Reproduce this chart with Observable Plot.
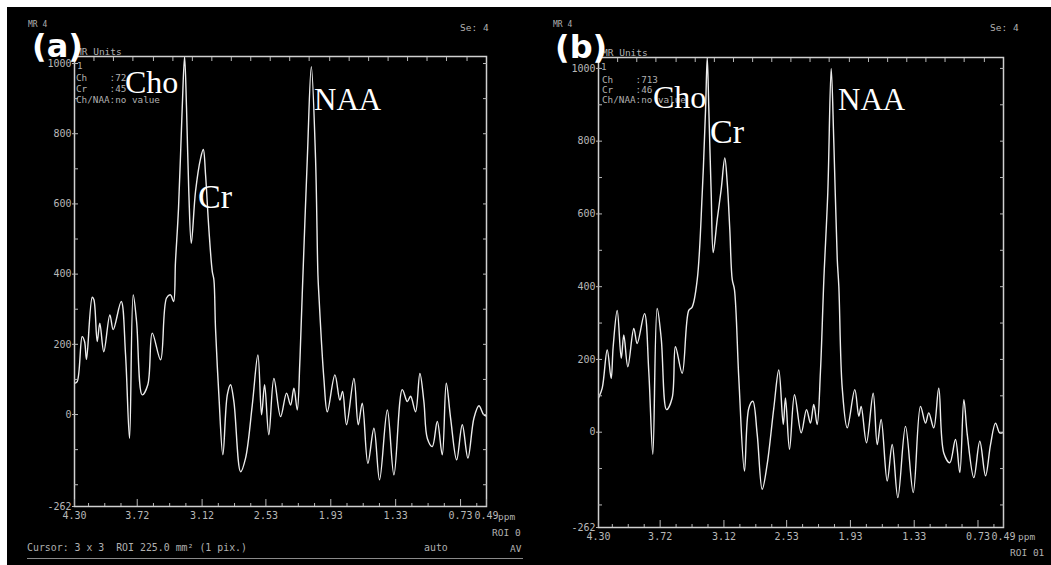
<!DOCTYPE html>
<html><head><meta charset="utf-8">
<script src="https://cdn.jsdelivr.net/npm/d3@7"></script>
<script src="https://cdn.jsdelivr.net/npm/@observablehq/plot@0.6"></script>
<style>
html,body{margin:0;padding:0;background:#fff;}
#stage{position:relative;width:1051px;height:565px;overflow:hidden;background:#fff;}
#black{position:absolute;left:7px;top:7px;right:0;bottom:0;background:#000;}
.p{position:absolute;top:0;}
.t{position:absolute;white-space:pre;color:#b0b0b0;font-family:"DejaVu Sans Mono",monospace;line-height:1;}
.lab{position:absolute;white-space:pre;color:#fff;font-family:"Liberation Serif","Times New Roman",serif;line-height:1;}
.big{position:absolute;white-space:pre;color:#fff;font-family:"DejaVu Sans",sans-serif;font-weight:bold;line-height:1;}
</style></head><body><div id="stage"><div id="black"></div></div>
<script>
// ---- data: chemical shift (ppm) and signal (MR units) ----
const ppmA = [4.300,4.275,4.229,4.207,4.189,4.136,4.121,4.090,4.066,4.029,3.973,3.942,3.868,3.828,3.791,3.757,3.726,3.674,3.622,3.581,3.504,3.449,3.412,3.384,3.366,3.338,3.304,3.282,3.264,3.243,3.220,3.181,3.134,3.109,3.088,3.058,3.026,3.011,2.996,2.965,2.928,2.887,2.857,2.826,2.764,2.718,2.656,2.604,2.570,2.542,2.503,2.456,2.394,2.339,2.302,2.271,2.240,2.216,2.194,2.147,2.110,2.071,2.049,2.040,1.994,1.962,1.892,1.846,1.821,1.784,1.716,1.676,1.639,1.587,1.531,1.479,1.407,1.346,1.269,1.222,1.192,1.146,1.106,1.069,1.037,0.991,0.945,0.899,0.862,0.822,0.766,0.714,0.662,0.606,0.560,0.517,0.490];
const valA = [89,94,222,208,157,334,328,208,260,179,284,242,322,171,-68,341,265,56,85,232,156,332,341,322,436,588,873,1020,873,635,488,635,730,755,683,531,408,384,246,56,-115,56,85,37,-163,-124,27,170,-1,85,-58,103,-6,61,27,75,13,151,342,730,991,730,399,341,103,8,113,41,66,-29,103,-29,32,-139,-39,-186,13,-172,71,37,52,8,117,37,-68,-91,-20,-115,89,-10,-129,-29,-124,-10,25,0,-5];

const ppmB = [4.300,4.265,4.218,4.181,4.162,4.124,4.086,4.062,4.024,3.968,3.936,3.867,3.827,3.789,3.748,3.710,3.660,3.607,3.576,3.513,3.451,3.419,3.371,3.324,3.293,3.277,3.262,3.240,3.221,3.183,3.146,3.112,3.089,3.065,3.042,3.021,2.980,2.927,2.886,2.848,2.807,2.760,2.713,2.651,2.604,2.562,2.541,2.503,2.456,2.393,2.343,2.306,2.275,2.243,2.212,2.180,2.143,2.111,2.086,2.054,2.039,2.007,1.960,1.889,1.851,1.829,1.779,1.716,1.678,1.641,1.584,1.537,1.484,1.412,1.339,1.271,1.224,1.193,1.146,1.099,1.052,0.995,0.942,0.901,0.863,0.831,0.769,0.713,0.659,0.612,0.565,0.525,0.490];
const valB = [94,121,226,148,235,335,203,267,180,285,244,326,167,-61,340,258,62,94,235,162,335,344,420,658,886,1030,886,658,494,585,667,754,686,558,420,392,148,-107,66,85,-6,-157,-88,66,171,21,94,-47,103,-2,62,25,76,21,167,420,658,1000,795,476,400,121,12,117,44,71,-29,107,-34,35,-134,-34,-180,16,-166,71,25,53,12,121,-57,-84,-20,-111,89,-6,-125,-25,-120,-34,25,-2,0];

const xTickLabels = [4.30,3.72,3.12,2.53,1.93,1.33,0.73,0.49];
const yTickLabels = [-262,0,200,400,600,800,1000];
const yMinor = [-200,-100,0,100,200,300,400,500,600,700,800,900,1000];
const xMinor = [4.17,4.02,3.87,3.57,3.42,3.27,2.97,2.82,2.67,2.38,2.23,2.08,1.78,1.63,1.48,1.18,1.03,0.88,0.58];
const xTop = [4.12,3.94,3.76,3.57,3.39,3.21,3.03,2.85,2.67,2.49,2.31,2.13,1.94,1.76,1.58,1.40,1.22,1.04,0.86,0.67];

const stage = document.getElementById("stage");

function panel(ppm, val, yMax, left, W, ml, mr, mt, mb) {
  const data = ppm.map((p, i) => ({ppm: p, v: val[i]}));
  const svg = Plot.plot({
    width: W, height: 565,
    marginLeft: ml, marginRight: mr, marginTop: mt, marginBottom: mb,
    style: {background: "none", color: "#b8b8b8", fontFamily: "DejaVu Sans Mono, monospace", fontSize: "10px", overflow: "visible"},
    x: {domain: [4.30, 0.49]},
    y: {domain: [-262, yMax]},
    marks: [
      Plot.line(data, {x: "ppm", y: "v", stroke: "#ececec", strokeWidth: 1.4, curve: "catmull-rom", clip: true}),
      Plot.frame({stroke: "#d0d0d0", strokeWidth: 1.5}),
      Plot.axisX({anchor: "bottom", ticks: xTickLabels, tickFormat: d => d.toFixed(2), tickSize: 0, tickPadding: 5, label: null}),
      Plot.axisX({anchor: "bottom", ticks: xTickLabels, tickSize: 7, dy: -7, text: null, label: null}),
      Plot.axisX({anchor: "bottom", ticks: xMinor, tickSize: 3, dy: -3, text: null, label: null}),
      Plot.axisX({anchor: "top", ticks: xTop, tickSize: 4, dy: 4, text: null, label: null}),
      Plot.axisY({anchor: "left", ticks: yTickLabels, tickFormat: d => String(d), tickSize: 2, tickPadding: 1, label: null}),
      Plot.axisY({anchor: "left", ticks: yMinor, tickSize: 4, dx: 4, text: null, label: null}),
      Plot.axisY({anchor: "right", ticks: yMinor, tickSize: 4, dx: -4, text: null, label: null})
    ]
  });
  svg.classList.add("p");
  svg.style.left = left + "px";
  stage.appendChild(svg);
}

panel(ppmA, valA, 1020, 0, 530, 74, 44, 56, 59);
panel(ppmB, valB, 1030, 530, 521, 68, 48, 57, 38);

function mono(str, x, cy, size = 9.3, color) {
  const d = document.createElement("div");
  d.className = "t";
  d.textContent = str;
  d.style.left = x + "px";
  d.style.top = (cy - 0.486 * size) + "px";
  d.style.fontSize = size + "px";
  if (color) d.style.color = color;
  stage.appendChild(d);
}
function serif(str, x, baseline, size) {
  const d = document.createElement("div");
  d.className = "lab";
  d.textContent = str;
  d.style.left = x + "px";
  d.style.top = (baseline - 0.8375 * size) + "px";
  d.style.fontSize = size + "px";
  stage.appendChild(d);
}
function big(str, x, baseline, size) {
  const d = document.createElement("div");
  d.className = "big";
  d.textContent = str;
  d.style.left = x + "px";
  d.style.top = (baseline - 0.846 * size) + "px";
  d.style.fontSize = size + "px";
  stage.appendChild(d);
}

// panel (a) texts
mono("MR 4", 28, 25, 8);
mono("Se: 4", 460, 28, 9.5);
mono("MR Units", 76, 52, 9.5);
mono("1", 77, 66, 9.3);
mono("Ch    :72", 76, 78);
mono("Cr    :45", 76, 89);
mono("Ch/NAA:no value", 76, 100);
mono("ppm", 498, 517, 9.5);
mono("ROI 0", 492, 533, 9.5);
mono("Cursor: 3 x 3  ROI 225.0 mm\u00b2 (1 pix.)", 27, 548, 9.9);
mono("auto", 424, 548, 9.9);
mono("AV", 510, 549, 9.5);
const rule = document.createElement("div");
rule.style.cssText = "position:absolute;left:27px;top:558px;width:496px;height:1px;background:#8a8a8a;";
stage.appendChild(rule);

// panel (b) texts
mono("MR 4", 553, 25, 8);
mono("Se: 4", 990, 28, 9.5);
mono("MR Units", 602, 53, 9.5);
mono("1", 601, 67, 9.3);
mono("Ch    :713", 602, 80);
mono("Cr    :46", 602, 90);
mono("Ch/NAA:no value", 602, 100);
mono("ppm", 1018, 537, 9.5);
mono("ROI 01", 1010, 553, 9.5);

// metabolite labels
serif("Cho", 125, 93, 32);
serif("Cr", 198, 208, 34);
serif("NAA", 314, 110, 31);
serif("Cho", 653, 108, 32);
serif("Cr", 710, 143, 34);
serif("NAA", 838, 110, 31);

big("(a)", 32, 57.5, 32);
big("(b)", 555, 58, 32);
</script></body></html>
